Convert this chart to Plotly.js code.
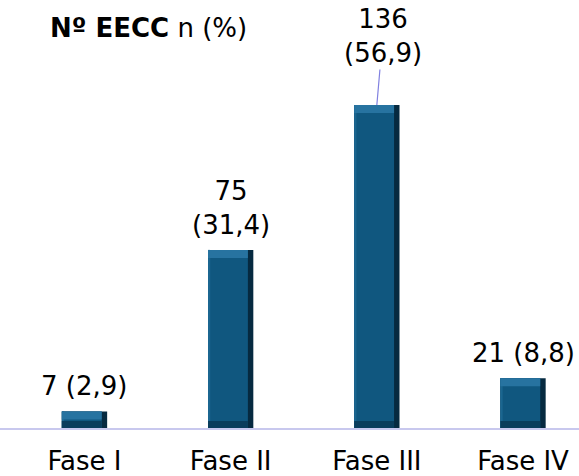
<!DOCTYPE html>
<html><head><meta charset="utf-8">
<script src="https://cdn.plot.ly/plotly-3.0.1.min.js"></script>
<style>html,body{margin:0;padding:0;background:#fff}</style>
</head><body>
<div id="chart" style="width:579px;height:476px"></div>
<script>
const categories = ["Fase I", "Fase II", "Fase III", "Fase IV"];
const counts = [7, 75, 136, 21];
const percents = ["2,9", "31,4", "56,9", "8,8"];

const W = 0.31;
const bevel = 3.4;
const traces = [
  {type:'bar', x:categories, y:counts, width:W, marker:{color:'#062a40'}, hoverinfo:'skip'},
  {type:'bar', x:categories, y:counts, width:W*0.88, offset:-W/2, marker:{color:'#10577f'}, hoverinfo:'skip'},
  {type:'bar', x:categories, y:counts, width:W*0.05, offset:-W/2, marker:{color:'#1b6690'}, hoverinfo:'skip'},
  {type:'bar', x:categories, base:counts.map(v=>v-bevel), y:counts.map(()=>bevel), width:W*0.88, offset:-W/2, marker:{color:'#2773a0'}, hoverinfo:'skip'},
  {type:'bar', x:categories, y:counts.map(()=>3), width:W*0.88, offset:-W/2, marker:{color:'#0a3d5c'}, hoverinfo:'skip'}
];

const font = {family:'"DejaVu Sans", Verdana, sans-serif', size:26, color:'#000'};
const annotations = counts.map((v,i)=>{
  const twoLine = (i===1 || i===2);
  const txt = twoLine ? `${v}<br>(${percents[i]})` : `${v} (${percents[i]})`;
  if (i===2) {
    return {x:categories[i], y:v, text:txt, showarrow:true, arrowhead:0, arrowwidth:1.2,
      arrowcolor:'#8080e0', ax:6, ay:-69, standoff:0, font:font, align:'center'};
  }
  return {x:categories[i], y:v, text:txt, showarrow:false, yanchor:'bottom', yshift:8, font:font, align:'center'};
});
annotations.push({xref:'paper', yref:'paper', x:0.083, y:1.0, xanchor:'left', yanchor:'middle',
  yshift:-8, text:'<b>Nº EECC</b> n (%)', showarrow:false, font:font});

const layout = {
  width:579, height:476,
  margin:{l:0, r:0, t:20, b:48},
  paper_bgcolor:'#fff', plot_bgcolor:'#fff',
  barmode:'overlay', showlegend:false,
  xaxis:{type:'category', range:[-0.578, 3.383], showline:true, linecolor:'#c8c8ee', linewidth:2,
    showgrid:false, zeroline:false, ticks:'', ticklabelstandoff:9, tickfont:font, fixedrange:true},
  yaxis:{range:[0, 171.8], visible:false, fixedrange:true},
  annotations:annotations,
  font:font
};
Plotly.newPlot('chart', traces, layout, {displayModeBar:false, staticPlot:true});
</script>
</body></html>
